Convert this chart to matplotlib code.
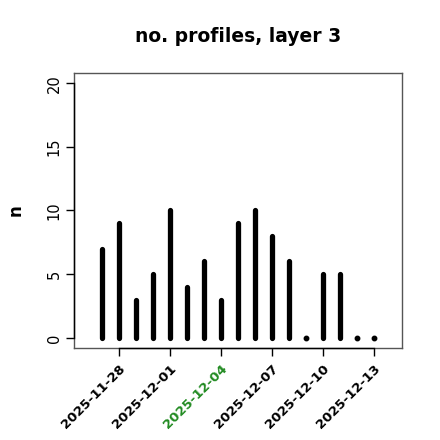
import datetime as dt

import numpy as np
import matplotlib
matplotlib.use("Agg")
import matplotlib.pyplot as plt
import matplotlib.dates as mdates

# daily profile counts, layer 3
dates = ["2025-11-27", "2025-11-28", "2025-11-29", "2025-11-30", "2025-12-01",
         "2025-12-02", "2025-12-03", "2025-12-04", "2025-12-05", "2025-12-06",
         "2025-12-07", "2025-12-08", "2025-12-09", "2025-12-10", "2025-12-11",
         "2025-12-12", "2025-12-13"]
counts = [7, 9, 3, 5, 10, 4, 6, 3, 9, 10, 8, 6, 0, 5, 5, 0, 0]

tick_dates = ["2025-11-28", "2025-12-01", "2025-12-04", "2025-12-07",
              "2025-12-10", "2025-12-13"]
highlight = "2025-12-04"
y_ticks = [0, 5, 10, 15, 20]

x = mdates.date2num([dt.date.fromisoformat(d) for d in dates])
xt = mdates.date2num([dt.date.fromisoformat(d) for d in tick_dates])

fig = plt.figure(figsize=(4.4, 4.4), dpi=100)
ax = fig.add_axes([74 / 440, 1 - 348 / 440, 328 / 440, 275 / 440])

ax.vlines(x, 0, counts, color="black", linewidth=3.8, capstyle="round")
# zero-height days still show as a dot
zero = np.array(counts) == 0
ax.plot(x[zero], np.zeros(zero.sum()), "o", color="black", markersize=3.2)

pad = 1.65
ax.set_xlim(x[0] - pad, x[-1] + pad)
ax.set_ylim(-0.8, 20.8)

for s in ax.spines.values():
    s.set_color("#555555")
    s.set_linewidth(1.0)

ax.set_yticks(y_ticks)
ax.set_yticklabels([str(v) for v in y_ticks], rotation=90, va="center", fontsize=10.5)
ax.set_xticks(xt)
labels = ax.set_xticklabels(tick_dates, rotation=45, ha="right",
                            rotation_mode="anchor", fontsize=9.5, fontweight="bold")
for lab, d in zip(labels, tick_dates):
    if d == highlight:
        lab.set_color("#228B22")
ax.tick_params(axis="both", direction="out", length=6, width=1.0, color="black")
ax.tick_params(axis="x", pad=4)
ax.tick_params(axis="y", pad=3)

# R-style axis lines spanning only the tick range
ax.plot([xt[0], xt[-1]], [-0.8, -0.8], color="black", lw=1.0, clip_on=False,
        zorder=5)
ax.plot([x[0] - pad, x[0] - pad], [0, 20], color="black", lw=1.0, clip_on=False,
        zorder=5)

ax.set_ylabel("n", fontsize=12, fontweight="bold", labelpad=16)
ax.set_title("no. profiles, layer 3", fontsize=13.5, fontweight="bold", pad=22)

fig.savefig("out.png", dpi=100)
